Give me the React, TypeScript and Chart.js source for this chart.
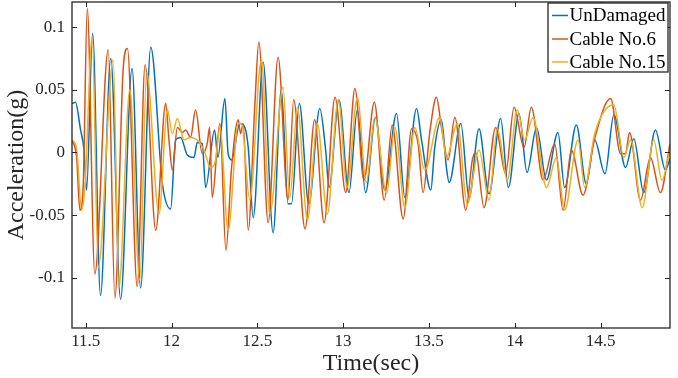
import React, { useEffect, useRef } from 'react';
import { Chart, registerables } from 'chart.js';

Chart.register(...registerables);

// ---- Data (time in seconds, acceleration in g) ----
const undamagedT = [11.42, 11.44, 11.47, 11.49, 11.505, 11.54, 11.586, 11.646, 11.703, 11.77, 11.82, 11.879, 11.947, 11.995, 12.024, 12.053, 12.092, 12.131, 12.15, 12.179, 12.199, 12.251, 12.27, 12.311, 12.33, 12.35, 12.398, 12.427, 12.447, 12.476, 12.534, 12.592, 12.64, 12.679, 12.699, 12.745, 12.8, 12.864, 12.898, 12.918, 12.976, 13.034, 13.083, 13.131, 13.189, 13.243, 13.311, 13.36, 13.428, 13.457, 13.511, 13.534, 13.573, 13.602, 13.618, 13.686, 13.734, 13.792, 13.85, 13.918, 13.963, 14.025, 14.072, 14.127, 14.185, 14.252, 14.291, 14.359, 14.417, 14.466, 14.526, 14.578, 14.646, 14.694, 14.752, 14.82, 14.878, 14.905];
const undamagedA = [0.039, 0.04, 0.018, 0.002, -0.03, 0.095, -0.114, 0.075, -0.117, 0.067, -0.108, 0.084, -0.025, -0.045, 0.01, 0.012, -0.002, -0.004, 0.008, 0.007, -0.028, 0.018, -0.004, 0.043, -0.001, -0.006, 0.023, 0.02, 0.004, -0.052, 0.072, -0.064, 0.05, -0.041, -0.041, 0.039, -0.041, 0.035, 0.002, -0.028, 0.042, -0.032, 0.034, -0.032, 0.028, -0.03, 0.031, -0.036, 0.035, 0.01, -0.03, 0.004, 0.026, -0.012, -0.024, 0.023, -0.036, 0.019, -0.033, 0.027, -0.028, 0.031, -0.016, 0.02, -0.022, 0.016, -0.028, 0.022, -0.025, 0.01, -0.017, 0.03, -0.012, 0.011, -0.032, 0.018, -0.014, -0.005];

const cable6T = [11.42, 11.447, 11.466, 11.485, 11.509, 11.553, 11.631, 11.67, 11.718, 11.743, 11.8, 11.846, 11.908, 11.966, 11.985, 12.005, 12.034, 12.063, 12.082, 12.111, 12.14, 12.179, 12.208, 12.222, 12.237, 12.282, 12.317, 12.35, 12.389, 12.402, 12.418, 12.447, 12.485, 12.509, 12.563, 12.621, 12.679, 12.712, 12.778, 12.834, 12.889, 12.953, 13.015, 13.069, 13.121, 13.182, 13.24, 13.286, 13.35, 13.399, 13.437, 13.466, 13.505, 13.544, 13.573, 13.612, 13.651, 13.715, 13.753, 13.773, 13.821, 13.889, 13.947, 13.996, 14.054, 14.097, 14.165, 14.233, 14.282, 14.33, 14.398, 14.466, 14.559, 14.617, 14.646, 14.669, 14.733, 14.791, 14.849, 14.905];
const cable6A = [0.01, -0.004, -0.046, -0.028, 0.115, -0.097, 0.082, -0.116, 0.066, 0.083, -0.107, 0.07, -0.062, 0.039, 0.01, -0.014, 0.02, 0.016, 0.018, 0.012, 0.034, -0.001, 0.007, 0.02, -0.036, 0.023, -0.078, -0.012, 0.026, 0.015, 0.023, -0.062, 0.036, 0.088, -0.056, 0.076, -0.038, 0.042, -0.061, 0.026, -0.056, 0.044, -0.032, 0.051, -0.022, 0.04, -0.038, 0.022, -0.053, 0.019, 0.007, -0.032, 0.016, 0.044, 0.02, -0.006, 0.028, -0.046, -0.006, 0.0, -0.044, 0.02, -0.017, 0.036, 0.004, 0.036, -0.022, 0.007, -0.046, 0.002, -0.034, 0.011, 0.043, -0.001, -0.001, 0.016, -0.038, -0.004, -0.032, 0.007];

const cable15T = [11.42, 11.447, 11.476, 11.495, 11.538, 11.573, 11.66, 11.693, 11.757, 11.815, 11.855, 11.927, 11.976, 12.005, 12.034, 12.073, 12.111, 12.15, 12.189, 12.228, 12.257, 12.282, 12.33, 12.389, 12.408, 12.456, 12.524, 12.573, 12.65, 12.689, 12.734, 12.792, 12.85, 12.908, 12.972, 13.024, 13.083, 13.135, 13.185, 13.253, 13.302, 13.36, 13.418, 13.476, 13.563, 13.602, 13.666, 13.724, 13.792, 13.85, 13.899, 13.957, 14.015, 14.058, 14.107, 14.185, 14.243, 14.291, 14.369, 14.408, 14.466, 14.578, 14.636, 14.675, 14.743, 14.81, 14.858, 14.905];
const cable15A = [0.01, 0.003, -0.046, -0.028, 0.092, -0.092, 0.074, -0.108, 0.05, -0.102, 0.064, -0.049, 0.034, 0.015, 0.027, 0.01, 0.012, 0.01, 0.002, -0.012, -0.006, 0.02, -0.062, 0.023, 0.023, -0.038, 0.074, -0.049, 0.052, -0.036, 0.036, -0.054, 0.023, -0.049, 0.042, -0.028, 0.044, -0.024, 0.028, -0.033, 0.02, -0.044, 0.02, -0.014, 0.028, -0.004, 0.023, -0.041, 0.002, -0.038, 0.019, -0.022, 0.034, 0.01, 0.028, -0.028, -0.004, -0.046, 0.01, -0.028, 0.015, 0.038, -0.004, 0.01, -0.044, 0.01, -0.022, 0.002];

const seriesNames = ['UnDamaged', 'Cable No.6', 'Cable No.15'];
const seriesColors = ['#0072BD', '#D95319', '#EDB120'];

const xTicks = [11.5, 12, 12.5, 13, 13.5, 14, 14.5];
const xTickLabels = ['11.5', '12', '12.5', '13', '13.5', '14', '14.5'];
const yTicks = [-0.1, -0.05, 0, 0.05, 0.1];
const yTickLabels = ['-0.1', '-0.05', '0', '0.05', '0.1'];

const xMin = 11.42;
const xMax = 14.905;
const yMin = -0.14;
const yMax = 0.12;

const FONT = '"Liberation Serif", "Times New Roman", serif';
const AXIS_COLOR = '#262626';

const toPoints = (t: number[], a: number[]) => t.map((x, i) => ({ x, y: a[i] }));

const framePlugin = {
  id: 'matlabFrame',
  afterDraw(chart: any) {
    const { ctx, chartArea, scales } = chart;
    const { left, right, top, bottom } = chartArea;
    ctx.save();
    ctx.strokeStyle = AXIS_COLOR;
    ctx.lineWidth = 1.3;
    ctx.strokeRect(left, top, right - left, bottom - top);
    const tl = 5;
    ctx.lineWidth = 1;
    ctx.beginPath();
    for (const v of xTicks) {
      const px = Math.round(scales.x.getPixelForValue(v)) + 0.5;
      ctx.moveTo(px, bottom);
      ctx.lineTo(px, bottom - tl);
      ctx.moveTo(px, top);
      ctx.lineTo(px, top + tl);
    }
    for (const v of yTicks) {
      const py = Math.round(scales.y.getPixelForValue(v)) + 0.5;
      ctx.moveTo(left, py);
      ctx.lineTo(left + tl, py);
      ctx.moveTo(right, py);
      ctx.lineTo(right - tl, py);
    }
    ctx.stroke();

    // legend box
    const bx = 548, by = 3, bw = 120, bh = 69;
    ctx.fillStyle = '#ffffff';
    ctx.fillRect(bx, by, bw, bh);
    ctx.lineWidth = 1.3;
    ctx.strokeStyle = AXIS_COLOR;
    ctx.strokeRect(bx, by, bw, bh);
    ctx.font = `19px ${FONT}`;
    ctx.textBaseline = 'middle';
    ctx.textAlign = 'left';
    const rows = [15.5, 39, 62];
    chart.data.datasets.forEach((ds: any, i: number) => {
      const y = rows[i];
      ctx.strokeStyle = ds.borderColor;
      ctx.lineWidth = 1.5;
      ctx.beginPath();
      ctx.moveTo(552, y);
      ctx.lineTo(568, y);
      ctx.stroke();
      ctx.fillStyle = '#000000';
      ctx.fillText(ds.label, 569.5, y + 1);
    });
    ctx.restore();
  },
};

export default function App() {
  const canvasRef = useRef<HTMLCanvasElement | null>(null);

  useEffect(() => {
    const canvas = canvasRef.current;
    if (!canvas) return;
    const datasets = [
      { label: seriesNames[0], data: toPoints(undamagedT, undamagedA), borderColor: seriesColors[0], order: 3 },
      { label: seriesNames[1], data: toPoints(cable6T, cable6A), borderColor: seriesColors[1], order: 2 },
      { label: seriesNames[2], data: toPoints(cable15T, cable15A), borderColor: seriesColors[2], order: 1 },
    ].map((d) => ({
      ...d,
      borderWidth: 1.5,
      pointRadius: 0,
      fill: false,
      cubicInterpolationMode: 'monotone' as const,
    }));

    const chart = new Chart(canvas, {
      type: 'line',
      data: { datasets },
      plugins: [framePlugin],
      options: {
        animation: false,
        responsive: false,
        devicePixelRatio: 1,
        layout: { padding: { top: 2, right: 8, left: 0, bottom: 0 } },
        plugins: {
          legend: { display: false },
          tooltip: { enabled: false },
        },
        scales: {
          x: {
            type: 'linear',
            min: xMin,
            max: xMax,
            afterBuildTicks: (s: any) => {
              s.ticks = xTicks.map((v) => ({ value: v }));
            },
            afterFit: (s: any) => {
              s.height = 50;
              s.paddingLeft = 0;
              s.paddingRight = 0;
            },
            grid: { display: false, drawTicks: false },
            border: { display: false },
            ticks: {
              autoSkip: false,
              maxRotation: 0,
              padding: 3,
              color: AXIS_COLOR,
              font: { family: FONT, size: 17 },
              callback: (v: any) => {
                const i = xTicks.findIndex((t) => Math.abs(t - Number(v)) < 1e-6);
                return i >= 0 ? xTickLabels[i] : '';
              },
            },
            title: {
              display: true,
              text: 'Time(sec)',
              color: AXIS_COLOR,
              font: { family: FONT, size: 24 },
              padding: { top: 0, bottom: 0 },
            },
          },
          y: {
            type: 'linear',
            min: yMin,
            max: yMax,
            afterBuildTicks: (s: any) => {
              s.ticks = yTicks.map((v) => ({ value: v }));
            },
            afterFit: (s: any) => {
              s.width = 72;
              s.paddingTop = 0;
              s.paddingBottom = 0;
            },
            grid: { display: false, drawTicks: false },
            border: { display: false },
            ticks: {
              autoSkip: false,
              padding: 7,
              color: AXIS_COLOR,
              font: { family: FONT, size: 17 },
              callback: (v: any) => {
                const i = yTicks.findIndex((t) => Math.abs(t - Number(v)) < 1e-9);
                return i >= 0 ? yTickLabels[i] : '';
              },
            },
            title: {
              display: true,
              text: 'Acceleration(g)',
              color: AXIS_COLOR,
              font: { family: FONT, size: 24 },
              padding: { top: 2, bottom: 0 },
            },
          },
        },
      },
    });
    return () => chart.destroy();
  }, []);

  return (
    <canvas
      ref={canvasRef}
      width={678}
      height={378}
      style={{ position: 'fixed', left: 0, top: 0, width: '678px', height: '378px', background: '#ffffff' }}
    />
  );
}
